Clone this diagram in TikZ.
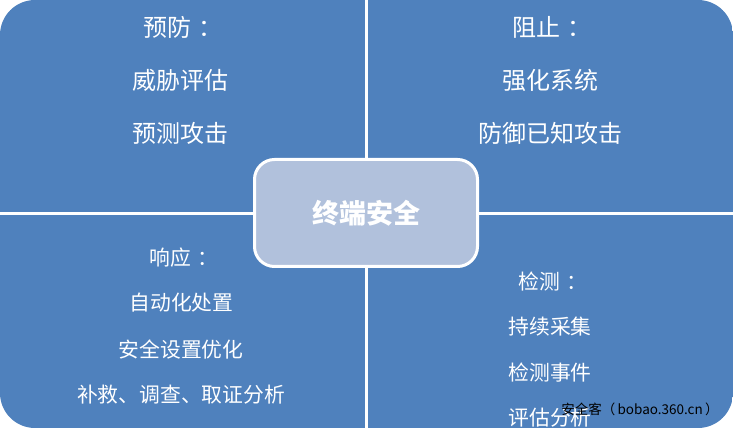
\documentclass[tikz,border=0pt]{standalone}
\usepackage{fontspec}
\newfontfamily\cjk{Noto Sans CJK SC}
\definecolor{qblue}{HTML}{4F81BD}
\definecolor{cblue}{HTML}{B1C1DC}
\newcommand{\qcolon}{\hspace{0.3em}：}
\begin{document}
\begin{tikzpicture}[x=1pt,y=1pt,
  quad/.style={fill=qblue},
  big/.style={text=white, font=\cjk\fontsize{24}{28}\selectfont, inner sep=0pt},
  small/.style={text=white, font=\cjk\fontsize{20.8}{24}\selectfont, inner sep=0pt},
  core/.style={draw=white, line width=3pt, fill=cblue, rounded corners=20pt,
    minimum width=223pt, minimum height=107pt, inner sep=0pt, text=white,
    font=\cjk\bfseries\fontsize{27}{30}\selectfont},
  wmark/.style={text=black, font=\cjk\fontsize{13.5}{15}\selectfont, inner sep=0pt}]
\useasboundingbox (0,0) rectangle (733,428);
\begin{scope}
  \clip[rounded corners=35pt] (0,0) rectangle (733,428);
  \fill[quad] (0,216) rectangle (365,428);
  \fill[quad] (368,216) rectangle (733,428);
  \fill[quad] (0,0) rectangle (365,213);
  \fill[quad] (368,0) rectangle (733,213);
\end{scope}
% top-left
\node[big] (tl1) at (183,401) {预防\qcolon};
\node[big] (tl2) at (180.5,348) {威胁评估};
\node[big] (tl3) at (180.5,295) {预测攻击};
% top-right
\node[big] (tr1) at (552,401) {阻止\qcolon};
\node[big] (tr2) at (550,348) {强化系统};
\node[big] (tr3) at (550,295) {防御已知攻击};
% bottom-left
\node[small] (bl1) at (184,170) {响应\qcolon};
\node[small] (bl2) at (181.5,125) {自动化处置};
\node[small] (bl3) at (181,78) {安全设置优化};
\node[small] (bl4) at (181,33) {补救、调查、取证分析};
% bottom-right
\node[small] (br1) at (553,146) {检测\qcolon};
\node[small] (br2) at (550,101) {持续采集};
\node[small] (br3) at (550,55) {检测事件};
\node[small] (br4) at (550,10) {评估分析};
% centre
\node[core] (center) at (366,215) {终端安全};
% watermark
\node[wmark] (wm) at (640,19) {安全客（\,bobao.360.cn\,）};
\end{tikzpicture}
\end{document}
